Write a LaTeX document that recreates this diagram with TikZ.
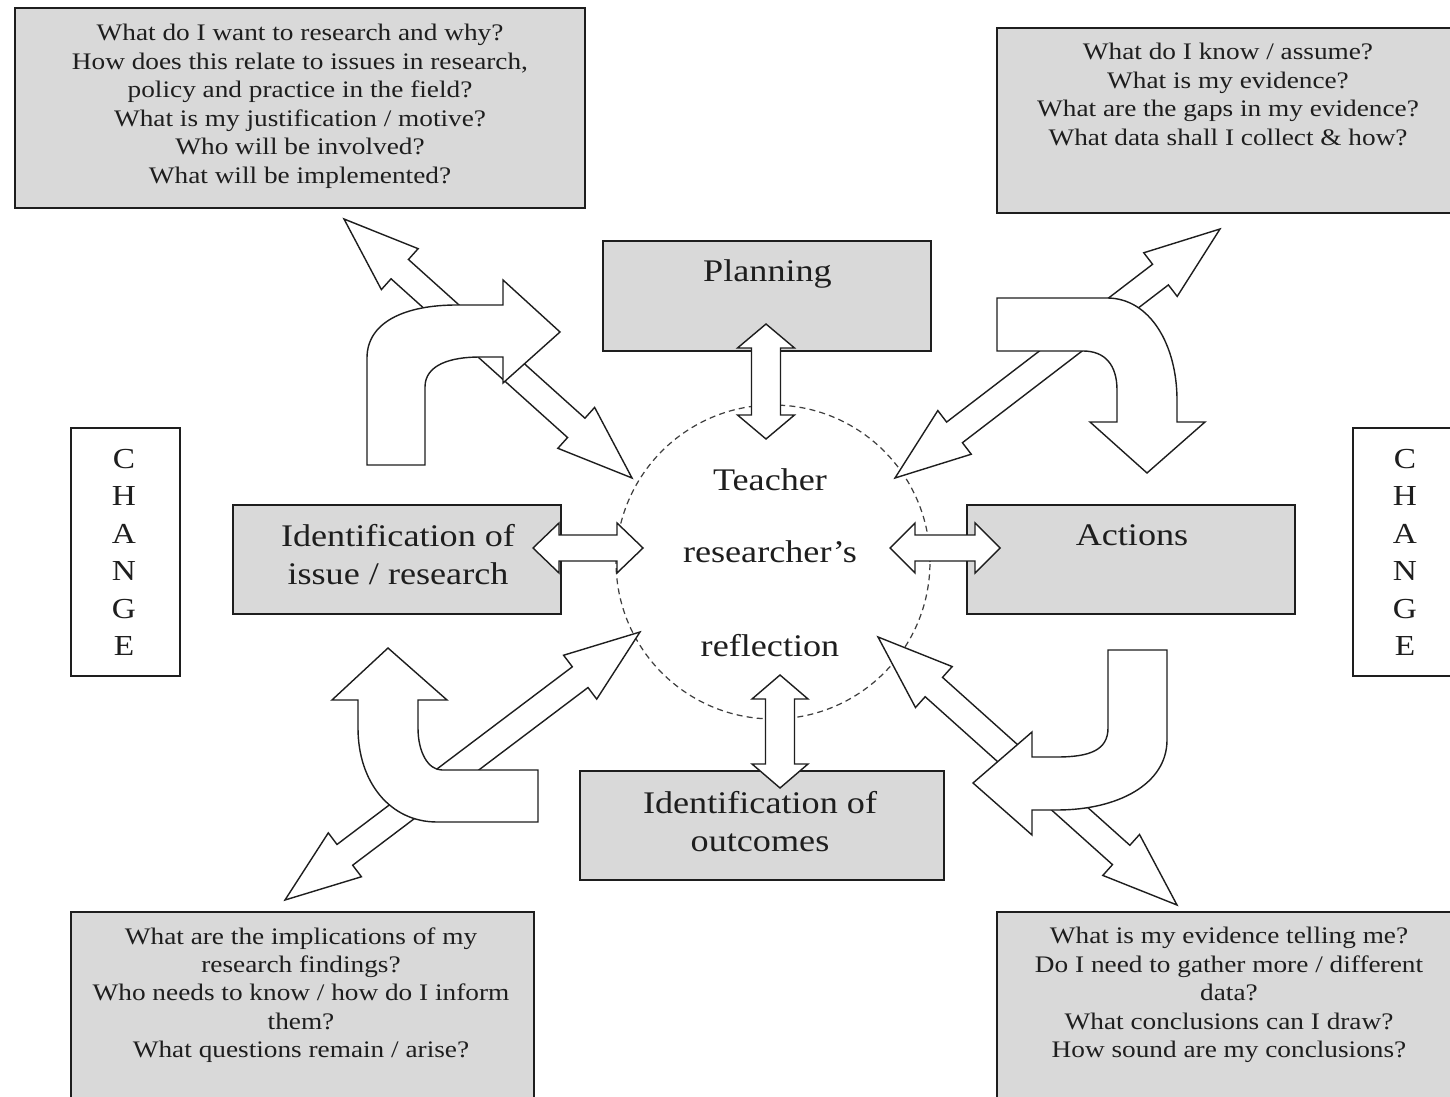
\documentclass[tikz,border=0pt]{standalone}
\usepackage{fontspec}
\setmainfont[FakeStretch=1.15]{Liberation Serif}
\usetikzlibrary{calc}
\definecolor{boxgray}{RGB}{217,217,217}
\definecolor{ink}{RGB}{30,30,30}
\tikzset{
  gbox/.style={draw=ink, line width=1.1pt, fill=boxgray, inner sep=0pt},
  wbox/.style={draw=ink, line width=1.1pt, fill=white, inner sep=0pt},
  qtext/.style={anchor=north, align=center, inner sep=0pt, text=ink, font=\fontsize{13.5}{16.2}\selectfont},
  ltext/.style={anchor=north, align=center, inner sep=0pt, text=ink, font=\fontsize{17.9}{21.5}\selectfont},
  chtext/.style={anchor=north, align=center, inner sep=0pt, text=ink, font=\fontsize{16.5}{21.3}\selectfont},
  dbl/.style={draw=ink, fill=white, line width=0.8pt, line join=miter},
  bent/.style={draw=ink, fill=white, line width=0.8pt, line join=miter},
  reflcircle/.style={circle, draw=ink!85, line width=0.7pt, dash pattern=on 3.4pt off 2.4pt, minimum size=6.28cm, inner sep=0pt}
}
% double-headed block arrow: #1 tip, #2 tip, #3 head length, #4 head half width, #5 shaft half width
\newcommand\dblarrow[5]{%
  \path ($(#1)!#3!(#2)$) coordinate (ha) ($(#2)!#3!(#1)$) coordinate (hb);
  \draw[dbl] (#1) -- ($(ha)!#4!90:(#2)$) -- ($(ha)!#5!90:(#2)$)
    -- ($(hb)!#5!-90:(#1)$) -- ($(hb)!#4!-90:(#1)$) -- (#2)
    -- ($(hb)!#4!90:(#1)$) -- ($(hb)!#5!90:(#1)$)
    -- ($(ha)!#5!-90:(#2)$) -- ($(ha)!#4!-90:(#2)$) -- cycle;
}
\begin{document}
\begin{tikzpicture}[x=0.02cm,y=-0.02cm]
\useasboundingbox (0,0) rectangle (1450,1097);
\fill[white] (0,0) rectangle (1450,1097);
\clip (0,0) rectangle (1450,1097);

% boxes
\node[gbox, minimum width=11.4cm, minimum height=4cm] (q1) at (300,108) {};
\node[gbox, minimum width=9.26cm, minimum height=3.7cm] (q2) at (1228.5,120.5) {};
\node[gbox, minimum width=9.26cm, minimum height=3.96cm] (q3) at (302.5,1011) {};
\node[gbox, minimum width=9.26cm, minimum height=3.96cm] (q4) at (1228.5,1011) {};
\node[gbox, minimum width=6.56cm, minimum height=2.2cm] (plan) at (767,296) {};
\node[gbox, minimum width=6.56cm, minimum height=2.18cm] (issue) at (397,559.5) {};
\node[gbox, minimum width=6.56cm, minimum height=2.18cm] (act) at (1131,559.5) {};
\node[gbox, minimum width=7.28cm, minimum height=2.18cm] (outc) at (762,825.5) {};
\node[wbox, minimum width=2.18cm, minimum height=4.96cm] (chL) at (125.5,552) {};
\node[wbox, minimum width=2.18cm, minimum height=4.96cm] (chR) at (1407.5,552) {};

% reflection circle
\node[reflcircle] (refl) at (773,562) {};

% diagonal double arrows
\coordinate (tlA) at (344,219);  \coordinate (tlB) at (632,478);
\coordinate (trA) at (1220,229); \coordinate (trB) at (895,478);
\coordinate (blA) at (640,632);  \coordinate (blB) at (285,900);
\coordinate (brA) at (878,637);  \coordinate (brB) at (1177,905);
\dblarrow{tlA}{tlB}{1.5cm}{0.55cm}{0.26cm}
\dblarrow{trA}{trB}{1.5cm}{0.55cm}{0.26cm}
\dblarrow{blA}{blB}{1.5cm}{0.55cm}{0.26cm}
\dblarrow{brA}{brB}{1.5cm}{0.55cm}{0.26cm}

% bent block arrows
\draw[bent] (367,465) -- (367,358) .. controls (367,322) and (405,305) .. (457,305)
  -- (503,305) -- (503,280) -- (560,332) -- (503,383) -- (503,357) -- (480,357)
  .. controls (450,357) and (425,365) .. (425,387) -- (425,465) -- cycle;
\draw[bent] (997,298) -- (1107,298) .. controls (1150,298) and (1177,345) .. (1177,400)
  -- (1177,422) -- (1205,422) -- (1147,473) -- (1090,422) -- (1117,422) -- (1117,390)
  .. controls (1117,365) and (1105,351) .. (1083,351) -- (997,351) -- cycle;
\draw[bent] (388,648) -- (447,700) -- (418,700) -- (418,728)
  .. controls (418,752) and (428,770) .. (442,770) -- (538,770) -- (538,822) -- (437,822)
  .. controls (390,822) and (358,782) .. (358,728) -- (358,700) -- (332,700) -- cycle;
\draw[bent] (1108,650) -- (1167,650) -- (1167,740)
  .. controls (1167,784) and (1118,810) .. (1057,810) -- (1032,810) -- (1032,835)
  -- (973,783) -- (1032,732) -- (1032,757) -- (1057,757)
  .. controls (1090,757) and (1108,750) .. (1108,728) -- cycle;

% short double arrows between boxes and circle
\coordinate (pA) at (766,324);  \coordinate (pB) at (766,439);
\coordinate (oA) at (780,675);  \coordinate (oB) at (780,788);
\coordinate (iA) at (533,548);  \coordinate (iB) at (643,548);
\coordinate (aA) at (890,548);  \coordinate (aB) at (1000,548);
\dblarrow{pA}{pB}{0.48cm}{0.57cm}{0.29cm}
\dblarrow{oA}{oB}{0.48cm}{0.56cm}{0.29cm}
\dblarrow{iA}{iB}{0.52cm}{0.5cm}{0.26cm}
\dblarrow{aA}{aB}{0.5cm}{0.5cm}{0.26cm}

% texts
\node[qtext] (q1t) at (300,24) {What do I want to research and why?\\How does this relate to issues in research,\\policy and practice in the field?\\What is my justification / motive?\\Who will be involved?\\What will be implemented?};
\node[qtext] (q2t) at (1228,43) {What do I know / assume?\\What is my evidence?\\What are the gaps in my evidence?\\What data shall I collect \& how?};
\node[qtext] (q3t) at (301,927) {What are the implications of my\\research findings?\\Who needs to know / how do I inform\\them?\\What questions remain / arise?};
\node[qtext] (q4t) at (1229,927) {What is my evidence telling me?\\Do I need to gather more / different\\data?\\What conclusions can I draw?\\How sound are my conclusions?};
\node[ltext] (plant) at (767.5,259) {Planning};
\node[ltext] (issuet) at (398,524) {Identification of\\issue / research};
\node[ltext] (actt) at (1132,524) {Actions};
\node[ltext] (outct) at (760,791) {Identification of\\outcomes};
\node[ltext] (reflt) at (770,468) {Teacher\\[19.9pt]researcher's\\[31.8pt]reflection};
\node[chtext] (chLt) at (124,449) {C\\H\\A\\N\\G\\E};
\node[chtext] (chRt) at (1405,449) {C\\H\\A\\N\\G\\E};
\end{tikzpicture}
\end{document}
